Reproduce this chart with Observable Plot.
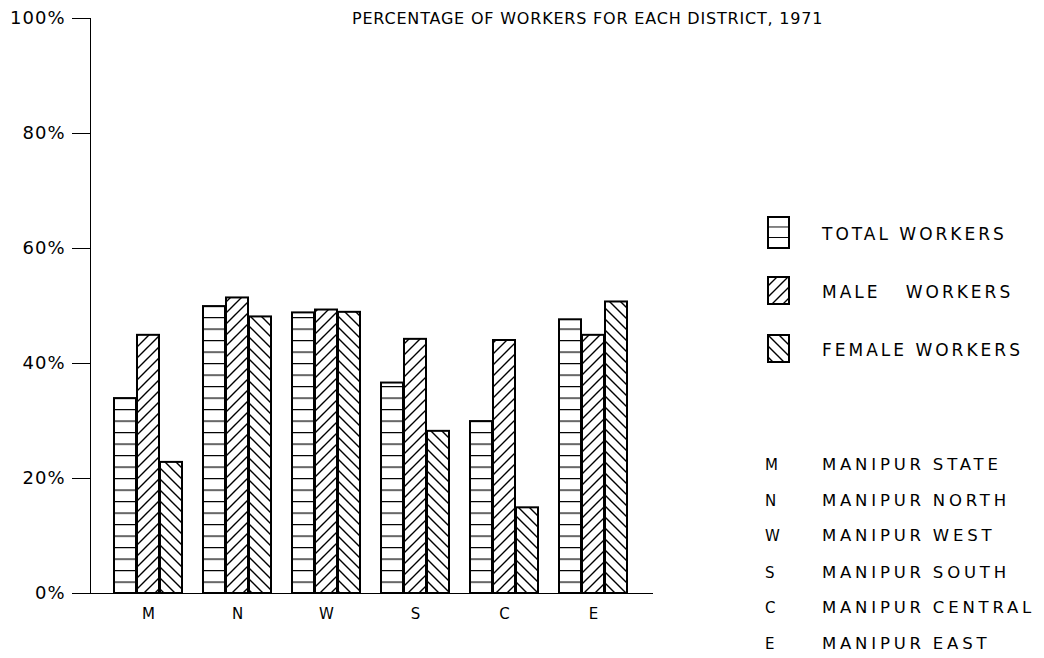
<!DOCTYPE html>
<html>
<head>
<meta charset="utf-8">
<script src="https://cdn.jsdelivr.net/npm/d3@7"></script>
<script src="https://cdn.jsdelivr.net/npm/@observablehq/plot@0.6"></script>
<style>
  html, body { margin: 0; padding: 0; background: #fff; }
  #wrap { position: relative; width: 1044px; height: 658px; overflow: hidden; font-family: "DejaVu Sans", sans-serif; color: #000; }
  #chart { position: absolute; left: 0; top: 0; }
  .txt { position: absolute; white-space: pre; line-height: 1; }
  #title { left: 352px; top: 11px; font-size: 16px; letter-spacing: 0.8px; }
  .leg { position: absolute; left: 822px; font-size: 17px; letter-spacing: 3px; }
  .sw { position: absolute; left: 767px; }
  .code { position: absolute; left: 765px; font-size: 15px; }
  .key { position: absolute; left: 822px; font-size: 16.5px; letter-spacing: 3.8px; word-spacing: -1px; }
  svg [aria-label="x-axis tick label"] text { font-size: 15px; }
  svg [aria-label="y-axis tick label"] text { font-size: 18px; letter-spacing: 1px; }
</style>
</head>
<body>
<svg width="0" height="0" style="position:absolute">
  <defs>
    <pattern id="pTotal" patternUnits="userSpaceOnUse" x="0" y="6.5" width="40" height="11.5">
      <rect width="40" height="11.5" fill="#fff"></rect>
      <line x1="0" y1="0" x2="40" y2="0" stroke="#000" stroke-width="2.4"></line>
    </pattern>
    <pattern id="pMale" patternUnits="userSpaceOnUse" width="11" height="11">
      <rect width="11" height="11" fill="#fff"></rect>
      <path d="M-2,2 L2,-2 M0,11 L11,0 M9,13 L13,9" stroke="#000" stroke-width="1.4"></path>
    </pattern>
    <pattern id="pFemale" patternUnits="userSpaceOnUse" width="11" height="11">
      <rect width="11" height="11" fill="#fff"></rect>
      <path d="M-2,9 L2,13 M0,0 L11,11 M9,-2 L13,2" stroke="#000" stroke-width="1.4"></path>
    </pattern>
    <pattern id="lTotal" patternUnits="userSpaceOnUse" x="0" y="0" width="40" height="10.5">
      <rect width="40" height="10.5" fill="#fff"></rect>
      <line x1="0" y1="0" x2="40" y2="0" stroke="#000" stroke-width="2"></line>
    </pattern>
  </defs>
</svg>
<div id="wrap">
  <div id="chart"></div>
  <div id="title" class="txt">PERCENTAGE OF WORKERS FOR EACH DISTRICT, 1971</div>
  <div id="legend"></div>
  <div id="keys"></div>
</div>
<script>
// ---- data ----
const districts = ["M", "N", "W", "S", "C", "E"];
const districtNames = ["MANIPUR STATE", "MANIPUR NORTH", "MANIPUR WEST", "MANIPUR SOUTH", "MANIPUR CENTRAL", "MANIPUR EAST"];
const series = ["TOTAL WORKERS", "MALE   WORKERS", "FEMALE WORKERS"];
const totalWorkers = [33.9, 49.9, 48.8, 36.6, 29.9, 47.6];
const maleWorkers = [44.9, 51.4, 49.3, 44.2, 44.0, 44.9];
const femaleWorkers = [22.8, 48.1, 48.9, 28.2, 14.9, 50.7];
const yTicks = [0, 20, 40, 60, 80, 100];

// ---- table ----
const valuesBySeries = [totalWorkers, maleWorkers, femaleWorkers];
const table = districts.flatMap((d, i) => series.map((s, j) => ({district: d, series: s, value: valuesBySeries[j][i]})));
const fills = ["url(#pTotal)", "url(#pMale)", "url(#pFemale)"];

// layout of the band scale (used to split each district band into 3 adjacent bars)
const W = 1044, H = 658, mL = 90, mR = 392, mT = 18, mB = 65;
const padIn = 0.2325, padOut = 0.242;
const step = (W - mL - mR) / (districts.length - padIn + 2 * padOut);
const third = step * (1 - padIn) / 3;

const chart = Plot.plot({
  width: W,
  height: H,
  marginLeft: mL,
  marginRight: mR,
  marginTop: mT,
  marginBottom: mB,
  style: {fontFamily: "DejaVu Sans, sans-serif", fontSize: "17px", color: "#000", background: "transparent"},
  x: {domain: districts, paddingInner: padIn, paddingOuter: padOut, label: null, tickSize: 0, tickPadding: 15, line: true},
  y: {domain: [0, 100], ticks: yTicks, tickFormat: d => d + "%", tickSize: 18, tickPadding: 7, line: true, label: null},
  marks: series.map((s, j) =>
    Plot.barY(table.filter(d => d.series === s), {
      x: "district", y: "value",
      insetLeft: j * third, insetRight: (2 - j) * third,
      fill: fills[j], stroke: "#000", strokeWidth: 2
    })
  )
});
document.getElementById("chart").appendChild(chart);

// ---- legend ----
const legend = document.getElementById("legend");
const legendY = [234, 292, 350];
const swatchFill = ["url(#lTotal)", "url(#pMale)", "url(#pFemale)"];
series.forEach((s, j) => {
  const h = j === 0 ? 31 : 27;
  const sw = document.createElementNS("http://www.w3.org/2000/svg", "svg");
  sw.setAttribute("class", "sw");
  sw.setAttribute("width", 24);
  sw.setAttribute("height", h + 2);
  sw.style.top = (legendY[j] - 3 - h / 2) + "px";
  sw.innerHTML = `<rect x="1" y="1" width="21" height="${h}" fill="${swatchFill[j]}" stroke="#000" stroke-width="2"></rect>`;
  legend.appendChild(sw);
  const t = document.createElement("div");
  t.className = "leg txt";
  t.style.top = (legendY[j] - 8.5) + "px";
  t.textContent = s;
  legend.appendChild(t);
});

// ---- district key ----
const keys = document.getElementById("keys");
const keyY = [465, 501, 536, 573, 608, 644];
districts.forEach((d, i) => {
  const c = document.createElement("div");
  c.className = "code txt";
  c.style.top = (keyY[i] - 7.5) + "px";
  c.textContent = d;
  keys.appendChild(c);
  const n = document.createElement("div");
  n.className = "key txt";
  n.style.top = (keyY[i] - 8.5) + "px";
  n.textContent = districtNames[i];
  keys.appendChild(n);
});
</script>
</body>
</html>
